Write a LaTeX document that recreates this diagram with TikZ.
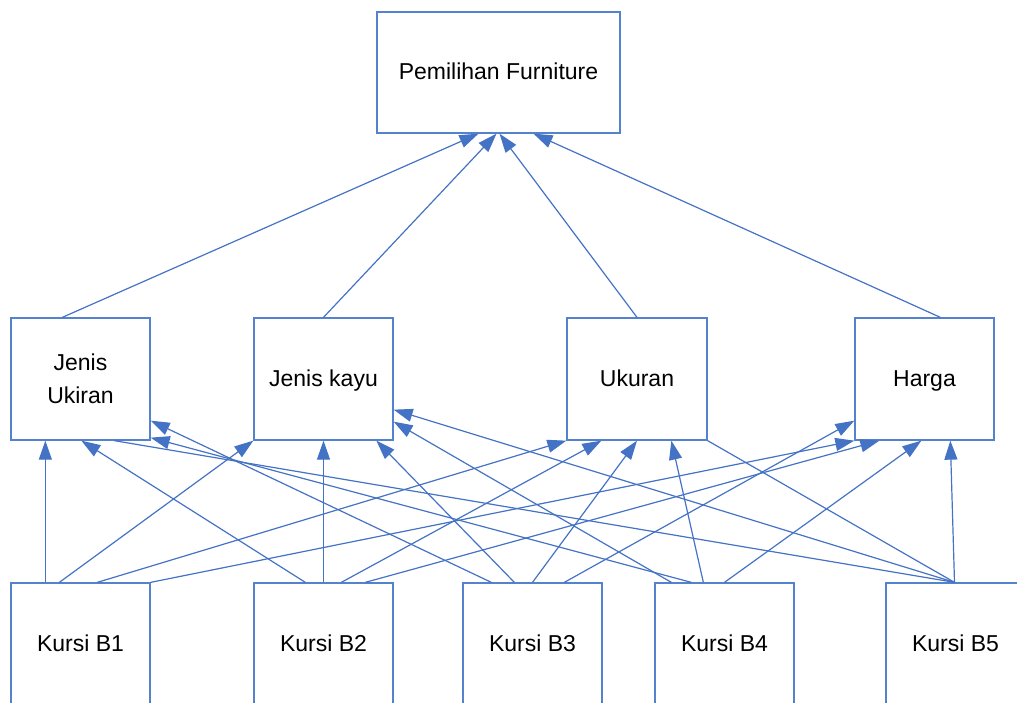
\documentclass[tikz,border=0pt]{standalone}
\usepackage{fontspec}
\setmainfont{Liberation Sans}
\usetikzlibrary{arrows.meta}
\definecolor{lineblue}{HTML}{4472C4}
\definecolor{boxblue}{HTML}{5482CC}
\begin{document}
\begin{tikzpicture}[x=1pt,y=-1pt,
  boxbase/.style={draw=boxblue, line width=1.3pt, fill=white, minimum width=139pt,
    minimum height=122pt, inner sep=0pt, align=center,
    font=\fontsize{23}{33}\selectfont},
  box/.style={boxbase, text height=18pt, text depth=4pt},
  con/.style={draw=lineblue, line width=1.2pt, -{Triangle[length=19pt,width=13pt]}},
  plainline/.style={draw=lineblue, line width=1.2pt}]
\useasboundingbox (0,0) rectangle (1017,702);
\clip (0,0) rectangle (1017,702);
% nodes
\node[box, minimum width=243pt, minimum height=121pt] (T) at (498.5,72.5) {Pemilihan Furniture};
\node[boxbase] (ju) at (80.5,379) {Jenis\\Ukiran};
\node[box] (jk) at (323.5,379) {Jenis kayu};
\node[box, minimum width=140pt] (uk) at (637,379) {Ukuran};
\node[box] (hg) at (924.5,379) {Harga};
\node[box] (b1) at (80.5,644) {Kursi B1};
\node[box] (b2) at (323.5,644) {Kursi B2};
\node[box] (b3) at (532.5,644) {Kursi B3};
\node[box] (b4) at (724.5,644) {Kursi B4};
\node[box] (b5) at (955.5,644) {Kursi B5};
% criteria to goal
\draw[con] ([xshift=52pt]ju.north west) -- ([xshift=-20pt]T.south);
\draw[con] (jk.north) -- ([xshift=-2pt]T.south);
\draw[con] (uk.north) -- ([xshift=1pt]T.south);
\draw[con] ([xshift=86pt]hg.north west) -- ([xshift=35pt]T.south);
% B1
\draw[con] ([xshift=35pt]b1.north west) -- ([xshift=35pt]ju.south west);
\draw[con] ([xshift=49pt]b1.north west) -- (jk.south west);
\draw[con] ([xshift=87pt]b1.north west) -- (uk.south west);
\draw[con] (b1.north east) -- (hg.south west);
% B2
\draw[con] ([xshift=52pt]b2.north west) -- ([xshift=71pt]ju.south west);
\draw[con] (b2.north) -- (jk.south);
\draw[con] ([xshift=88pt]b2.north west) -- ([xshift=35pt]uk.south west);
\draw[con] ([xshift=112pt]b2.north west) -- ([xshift=25pt]hg.south west);
% B3
\draw[con] ([xshift=29pt]b3.north west) -- ([yshift=20pt]ju.south east);
\draw[con] ([xshift=52pt]b3.north west) -- ([xshift=123pt]jk.south west);
\draw[con] (b3.north) -- (uk.south);
\draw[con] ([xshift=102pt]b3.north west) -- ([yshift=20pt]hg.south west);
% B4
\draw[con] ([xshift=17pt]b4.north west) -- ([yshift=19pt]jk.south east);
\draw[con] ([xshift=37pt]b4.north west) -- ([yshift=3pt]ju.south east);
\draw[con] ([xshift=49pt]b4.north west) -- ([xshift=105pt]uk.south west);
\draw[con] (b4.north) -- ([xshift=67pt]hg.south west);
% B5
\draw[con] ([xshift=-1pt]b5.north) -- ([xshift=96pt]hg.south west);
\draw[plainline] ([xshift=-1pt]b5.north) -- (uk.south east);
\draw[con] ([xshift=-1pt]b5.north) -- ([yshift=31pt]jk.south east);
\draw[plainline] ([xshift=-1pt]b5.north) -- ([xshift=104pt]ju.south west);
\end{tikzpicture}
\end{document}
